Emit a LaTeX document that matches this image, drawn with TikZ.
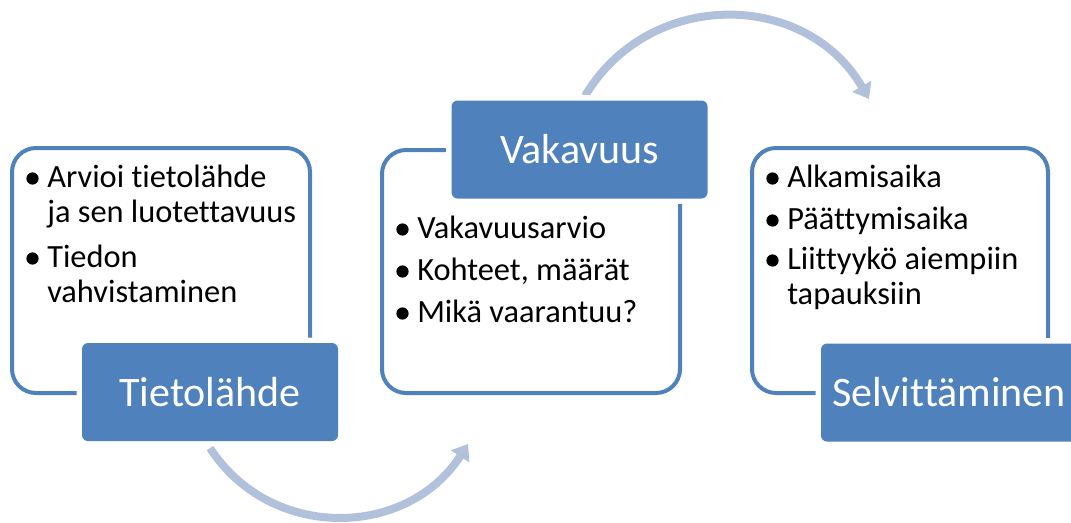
\documentclass[tikz,border=0pt]{standalone}
\usepackage{fontspec}
\setmainfont[RawFeature={-liga;-clig;-rlig;-calt;-dlig}]{Carlito}
\usetikzlibrary{arrows.meta}
\definecolor{hdrblue}{RGB}{79,129,189}
\definecolor{arrowblue}{RGB}{178,193,219}
\begin{document}
\begin{tikzpicture}[x=0.75pt,y=-0.75pt,
  frame/.style={draw=hdrblue, line width=3pt, rounded corners=18pt,
    rectangle, inner sep=0pt, outer sep=0pt},
  header/.style={fill=hdrblue, rounded corners=4.5pt, rectangle,
    preaction={draw=white, line width=8pt},
    minimum width=192pt, minimum height=73.5pt, inner sep=0pt,
    text=white, font=\fontsize{31.5}{38}\selectfont},
  item/.style={anchor=base west, inner sep=0pt, font=\fontsize{24.3}{26.25}\selectfont},
  dot/.style={circle, fill=black, inner sep=0pt, minimum size=9.2pt},
  flow/.style={draw=arrowblue, line width=6pt,
    -{Triangle[width=16pt,length=11pt]}}]
\useasboundingbox (0,0) rectangle (1071,522);
\clip (0,0) rectangle (1071,522);

% curved arrows between the stages
\coordinate (b0) at (210,448);
\coordinate (b1) at (468,444);
\coordinate (t0) at (585,96);
\coordinate (t1) at (869,99);
\draw[flow] (b0) .. controls (270,541) and (407,539) .. (b1);
\draw[flow] (t0) .. controls (649,-12) and (806,-10) .. (t1);

% stage frames
\node[frame, minimum width=223.5pt, minimum height=183.75pt] (f1) at (161,270.5) {};
\node[frame, minimum width=223.5pt, minimum height=182.25pt] (f2) at (531,271.5) {};
\node[frame, minimum width=222pt, minimum height=183.75pt] (f3) at (900,270.5) {};

% stage headers
\node[header] (h1) at (210,392) {Tietolähde};
\node[header] (h2) at (579.5,149.5) {Vakavuus};
\node[header] (h3) at (949,392.5) {Selvittäminen};

% first stage
\node[dot] (d1a) at (32.5,178.5) {};
\node[item] (t1a) at (47,187) {Arvioi tietolähde};
\node[item] (t1b) at (47,222) {ja sen luotettavuus};
\node[dot] (d1b) at (32.5,258.5) {};
\node[item] (t1c) at (47,267) {Tiedon};
\node[item] (t1d) at (47,302) {vahvistaminen};

% second stage
\node[dot] (d2a) at (402.5,229.5) {};
\node[item] (t2a) at (417,238) {Vakavuusarvio};
\node[dot] (d2b) at (402.5,271.5) {};
\node[item] (t2b) at (417,280) {Kohteet, määrät};
\node[dot] (d2c) at (402.5,313.5) {};
\node[item] (t2c) at (417,322) {Mikä vaarantuu?};

% third stage
\node[dot] (d3a) at (772.5,178.5) {};
\node[item] (t3a) at (787,187) {Alkamisaika};
\node[dot] (d3b) at (772.5,220.5) {};
\node[item] (t3b) at (787,229) {Päättymisaika};
\node[dot] (d3c) at (772.5,260.5) {};
\node[item] (t3c) at (787,269) {Liittyykö aiempiin};
\node[item] (t3d) at (787,304) {tapauksiin};
\end{tikzpicture}
\end{document}
